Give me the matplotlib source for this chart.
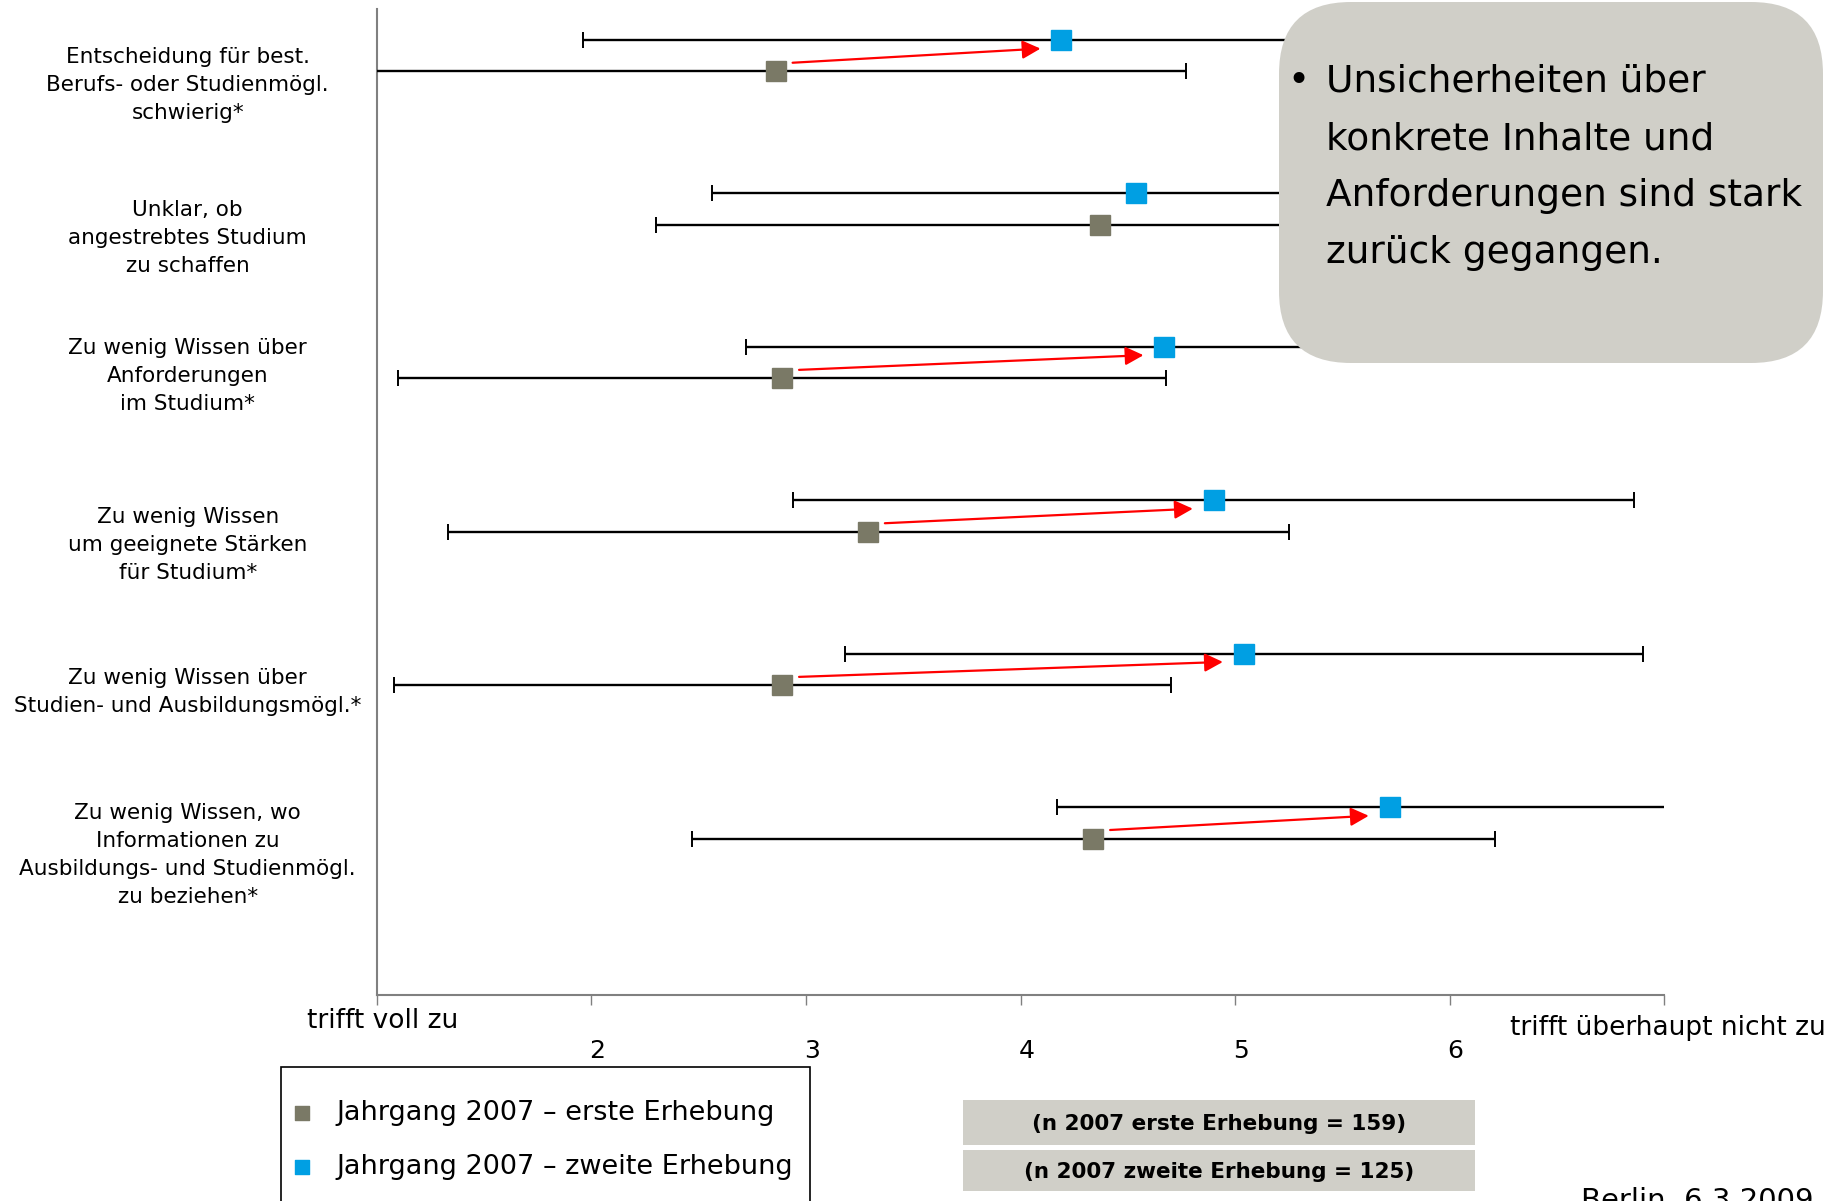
import numpy as np
import matplotlib.pyplot as plt
import matplotlib.transforms as mtransforms
from matplotlib.patches import FancyBboxPatch, Rectangle

# categories (top to bottom)
items = [
    "Entscheidung für best.\nBerufs- oder Studienmögl.\nschwierig*",
    "Unklar, ob\nangestrebtes Studium\nzu schaffen",
    "Zu wenig Wissen über\nAnforderungen\nim Studium*",
    "Zu wenig Wissen\num geeignete Stärken\nfür Studium*",
    "Zu wenig Wissen über\nStudien- und Ausbildungsmögl.*",
    "Zu wenig Wissen, wo\nInformationen zu\nAusbildungs- und Studienmögl.\nzu beziehen*",
]

# Jahrgang 2007 - erste Erhebung (mean, sd)
first_mean = [2.86, 4.37, 2.89, 3.29, 2.89, 4.34]
first_sd = [1.91, 2.07, 1.79, 1.96, 1.81, 1.87]

# Jahrgang 2007 - zweite Erhebung (mean, sd)
second_mean = [4.19, 4.54, 4.67, 4.90, 5.04, 5.72]
second_sd = [2.23, 1.98, 1.95, 1.96, 1.86, 1.55]

significant = [True, False, True, True, True, True]

tick_vals = [1, 2, 3, 4, 5, 6, 7]
tick_labels = ["", "2", "3", "4", "5", "6", ""]

legend_labels = ["Jahrgang 2007 – erste Erhebung", "Jahrgang 2007 – zweite Erhebung"]
n_labels = ["(n 2007 erste Erhebung = 159)", "(n 2007 zweite Erhebung = 125)"]
note_lines = ["Unsicherheiten über", "konkrete Inhalte und",
              "Anforderungen sind stark", "zurück gegangen."]

GRAY = "#7a7966"
BLUE = "#009fe3"
BOXGRAY = "#d0cfc8"
AXGRAY = "#808080"

plt.rcParams['font.family'] = 'DejaVu Sans'

fig = plt.figure(figsize=(18.35, 12.01), dpi=100)
ax = fig.add_axes([0.2054, 0.1717, 0.7015, 0.8205])

pos = np.arange(len(items))
off = 0.103

# error bars + markers
ax.errorbar(first_mean, pos + off, xerr=first_sd, fmt='s', color=GRAY, ms=14.5,
            ecolor='black', elinewidth=1.7, capsize=6, capthick=1.4, zorder=3)
ax.errorbar(second_mean, pos - off, xerr=second_sd, fmt='s', color=BLUE, ms=14.5,
            ecolor='black', elinewidth=1.7, capsize=6, capthick=1.4, zorder=3)

# arrows showing the change
for i in range(len(items)):
    if significant[i]:
        ax.annotate('', xy=(second_mean[i], pos[i] - off + 0.05),
                    xytext=(first_mean[i], pos[i] + off - 0.05),
                    arrowprops=dict(arrowstyle='-|>,head_length=0.55,head_width=0.28',
                                    color='red', lw=1.6, mutation_scale=20,
                                    shrinkA=12, shrinkB=15),
                    zorder=4)

ax.set_xlim(1, 7)
ax.set_ylim(6.121, -0.301)
ax.set_yticks([])
ax.set_xticks(tick_vals)
ax.set_xticklabels(tick_labels, fontsize=18)
ax.tick_params(axis='x', direction='out', length=7, width=1, color=AXGRAY, pad=25)
shift = mtransforms.ScaledTranslation(6 / 100, 0, fig.dpi_scale_trans)
for lbl in ax.get_xticklabels():
    lbl.set_transform(lbl.get_transform() + shift)
for s in ['top', 'right']:
    ax.spines[s].set_visible(False)
for s in ['left', 'bottom']:
    ax.spines[s].set_color(AXGRAY)
    ax.spines[s].set_linewidth(1.5)

# category labels
label_dy = [0.19, 0.19, 0.09, 0.19, 0.15, 0.21]
for i, txt in enumerate(items):
    ax.text(-0.147, pos[i] + label_dy[i], txt, transform=ax.get_yaxis_transform(),
            ha='center', va='center', fontsize=15.5, linespacing=1.5, clip_on=False)

# overlay in pixel coordinates for the annotations
fx = fig.add_axes([0, 0, 1, 1])
fx.set_xlim(0, 1835)
fx.set_ylim(1201, 0)
fx.axis('off')

fx.text(307, 1021, "trifft voll zu", fontsize=19, va='center', ha='left')
fx.text(1510, 1028, "trifft überhaupt nicht zu", fontsize=19, va='center', ha='left')

# callout box
fx.add_patch(FancyBboxPatch((1279, 2), 544, 361, boxstyle="round,pad=0,rounding_size=72",
                            fc=BOXGRAY, ec='none', zorder=5))
fx.text(1298, 82, "•", fontsize=27, va='center', ha='center', zorder=6)
for k, line in enumerate(note_lines):
    fx.text(1326, 82 + 57 * k, line, fontsize=27, va='center', ha='left', zorder=6)

# legend
fx.add_patch(Rectangle((281, 1067), 529, 200, fc='white', ec='black', lw=1.2, zorder=5))
for k, (col, lab) in enumerate(zip([GRAY, BLUE], legend_labels)):
    y = 1113 + 54 * k
    fx.scatter([302], [y], marker='s', s=105, color=col, zorder=6)
    fx.text(336, y, lab, fontsize=19.5, va='center', ha='left', zorder=6)

# sample sizes
for k, lab in enumerate(n_labels):
    y0 = [1100, 1150][k]
    h = [45, 41][k]
    fx.add_patch(Rectangle((963, y0), 512, h, fc=BOXGRAY, ec='none', zorder=5))
    fx.text(1219, y0 + h / 2 + 2, lab, fontsize=15.5, fontweight='bold',
            ha='center', va='center', zorder=6)

fx.text(1581, 1187, "Berlin, 6.3.2009", fontsize=21, va='top', ha='left')

fig.savefig('out.png', dpi=100)
